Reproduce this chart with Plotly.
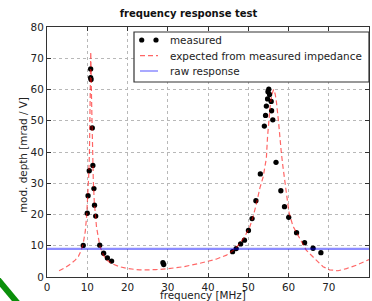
import plotly.graph_objects as go

# ---- data ----
freq_measured = [9.0, 10.0, 10.2, 10.5, 10.85, 10.85, 10.95, 11.25, 11.4, 11.66, 11.8, 12.1,
                 13.1, 14.07, 15.0, 16.05, 28.8, 29.0,
                 46.1, 47.0, 48.1, 49.05, 50.05, 50.95, 51.9, 53.0,
                 54.0, 54.3, 54.5, 54.8, 54.9, 55.1, 55.3, 55.7, 55.8, 56.1,
                 56.9, 58.1, 59.0, 60.05, 62.0, 64.0, 66.1, 68.05]
depth_measured = [10.1, 20.4, 26.0, 34.0, 66.6, 63.8, 63.2, 47.7, 35.7, 28.3, 23.0, 19.5,
                  10.2, 7.6, 6.1, 5.1, 4.6, 4.0,
                  8.1, 9.1, 10.6, 11.8, 14.9, 18.7, 24.4, 33.0,
                  48.3, 51.7, 54.7, 57.0, 59.3, 60.1, 58.4, 56.2, 53.2, 50.3,
                  36.7, 27.6, 22.5, 19.1, 14.2, 11.0, 9.2, 7.8]

freq_expected = [3.0, 4.5, 6.0, 7.0, 7.8, 8.5, 9.0, 9.5, 9.85, 10.1, 10.35, 10.55, 10.7, 10.8,
                 10.87, 10.95, 11.05, 11.15, 11.3, 11.5, 11.75, 12.3, 13.15, 14.0, 14.8, 16.0,
                 18.0, 20.0, 23.0, 25.0, 27.0, 30.0, 34.0, 38.0, 42.0, 44.6, 46.2, 47.9, 49.1,
                 50.4, 51.2, 52.0, 52.9, 53.7, 54.5, 54.8, 55.1, 55.5, 55.9, 56.3, 56.7, 57.0,
                 57.5, 57.8, 58.2, 58.6, 59.3, 59.7, 60.1, 61.1, 62.8, 64.4, 66.9, 68.6, 70.2,
                 72.3, 74.4, 76.9, 79.3, 80.0]
depth_expected = [2.0, 3.0, 4.3, 5.4, 6.6, 8.5, 10.8, 14.5, 19.5, 25.0, 32.0, 40.0, 52.0, 66.0,
                  72.0, 67.0, 58.0, 48.0, 39.0, 31.0, 24.0, 16.0, 9.8, 7.0, 5.5, 4.3,
                  3.3, 2.7, 2.25, 2.2, 2.35, 2.65, 3.3, 4.4, 5.7, 7.0, 8.5, 10.7, 12.9,
                  16.1, 19.3, 23.3, 28.5, 32.0, 38.0, 45.0, 50.5, 55.5, 58.5, 60.0, 58.5, 56.0,
                  50.0, 45.0, 40.0, 35.5, 29.0, 24.5, 20.8, 16.3, 12.4, 8.6, 5.4, 3.3, 2.3,
                  2.0, 2.7, 3.8, 5.2, 5.6]

raw_freq = [0, 80]
raw_depth = [9.0, 9.0]

x_ticks = [0, 10, 20, 30, 40, 50, 60, 70, 80]
y_ticks = [0, 10, 20, 30, 40, 50, 60, 70, 80]

series_names = ["measured", "expected from measured impedance", "raw response"]

FONT = "DejaVu Sans"
FS = 10.4
TXT = "#222222"
RED = "rgba(255,0,0,0.6)"
BLUE = "rgba(0,0,255,0.45)"

# plot area in pixels: x 47..369, y 27..277
L, R, T, B = 47, 369, 27, 277
def px(xp):
    return (xp - L) / (R - L)
def py(yp):
    return (B - yp) / (B - T)

fig = go.Figure()
fig.add_trace(go.Scatter(
    x=freq_measured, y=depth_measured, mode="markers", name=series_names[0],
    marker=dict(color="black", size=5.3, line=dict(width=0)), showlegend=False,
))
fig.add_trace(go.Scatter(
    x=freq_expected, y=depth_expected, mode="lines", name=series_names[1],
    line=dict(color=RED, width=1.2, dash="5px,3px"), showlegend=False,
))
fig.add_trace(go.Scatter(
    x=raw_freq, y=raw_depth, mode="lines", name=series_names[2],
    line=dict(color=BLUE, width=2.2), showlegend=False,
))

axis_common = dict(
    showgrid=True, gridcolor="#b8b8b8", griddash="dot", gridwidth=1,
    zeroline=False, showline=True, linecolor="#333333", linewidth=1.2,
    mirror="ticks", ticks="inside", ticklen=4, tickcolor="#333333",
    tickfont=dict(family=FONT, size=FS, color=TXT),
)

fig.update_layout(
    width=372, height=301,
    margin=dict(l=L, r=372 - R, t=T, b=301 - B),
    paper_bgcolor="white", plot_bgcolor="white",
    showlegend=False,
    xaxis=dict(range=[0, 80], tickvals=x_ticks, ticktext=[str(v) for v in x_ticks], **axis_common),
    yaxis=dict(range=[0, 80], tickvals=y_ticks, ticktext=[str(v) for v in y_ticks], **axis_common),
    title=dict(text="<b>frequency response test</b>", x=188.5 / 372, xanchor="center",
               y=1 - 13 / 301, yanchor="middle",
               font=dict(family=FONT, size=10, color="#111111")),
)

fig.add_annotation(text="frequency [MHz]", xref="paper", yref="paper",
                   x=px(202.6), y=py(295), xanchor="center", yanchor="middle",
                   showarrow=False, font=dict(family=FONT, size=FS, color=TXT))
fig.add_annotation(text="mod. depth [mrad / V]", xref="paper", yref="paper",
                   x=px(23), y=py(155), xanchor="center", yanchor="middle",
                   textangle=-90, showarrow=False, font=dict(family=FONT, size=FS, color=TXT))

# ---- legend box (drawn to match the compact matplotlib legend) ----
fig.add_shape(type="rect", xref="paper", yref="paper", layer="above",
              x0=px(134), x1=px(369), y0=py(82), y1=py(32),
              fillcolor="white", line=dict(color="#333333", width=1.2))
rows = [40, 55.7, 71]
rx, ry = 2.6 / (R - L), 2.6 / (B - T)
for cx in (141.7, 156):
    fig.add_shape(type="circle", xref="paper", yref="paper", layer="above",
                  x0=px(cx) - rx, x1=px(cx) + rx, y0=py(rows[0]) - ry, y1=py(rows[0]) + ry,
                  fillcolor="black", line=dict(width=0))
fig.add_shape(type="line", xref="paper", yref="paper", layer="above",
              x0=px(140), x1=px(158), y0=py(rows[1]), y1=py(rows[1]),
              line=dict(color=RED, width=1.2, dash="5px,3px"))
fig.add_shape(type="line", xref="paper", yref="paper", layer="above",
              x0=px(140), x1=px(158), y0=py(rows[2]), y1=py(rows[2]),
              line=dict(color=BLUE, width=1.5))
for name, ry_ in zip(series_names, rows):
    fig.add_annotation(text=name, xref="paper", yref="paper", x=px(167.5), y=py(ry_),
                       xanchor="left", yanchor="middle", showarrow=False,
                       font=dict(family=FONT, size=FS, color=TXT))

# green diagonal stroke visible in the lower-left corner of the reference image
fig.add_shape(type="line", xref="paper", yref="paper",
              x0=px(-5), y0=py(276), x1=px(20), y1=py(306),
              line=dict(color="#0a8f0a", width=6))

fig.write_html("out.html", config={"displayModeBar": False},
               post_script="document.body.style.margin='0';")
